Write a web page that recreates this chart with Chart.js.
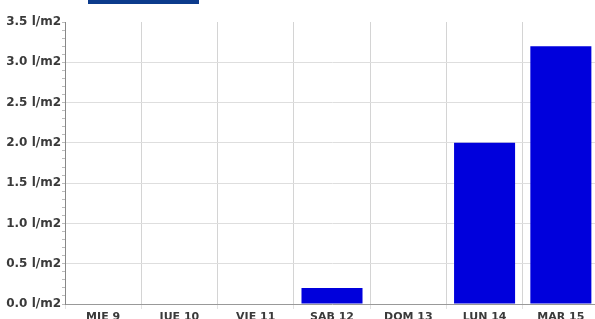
<!DOCTYPE html>
<html>
<head>
<meta charset="utf-8">
<script src="https://cdn.jsdelivr.net/npm/chart.js@4/dist/chart.umd.min.js"></script>
<style>
html,body{margin:0;padding:0;background:#fff;overflow:hidden;}
#wrap{position:relative;width:595px;height:319px;overflow:hidden;}
#bar{position:absolute;left:88px;top:0;width:111px;height:4px;background:#0c3b8c;}
canvas{position:absolute;left:0;top:0;}
</style>
</head>
<body>
<div id="wrap">
<canvas id="c" width="600" height="330"></canvas>
<div id="bar"></div>
</div>
<script>
const categories = ['MIE 9','JUE 10','VIE 11','SAB 12','DOM 13','LUN 14','MAR 15'];
const rainfall = [0, 0, 0, 0.2, 0, 2.0, 3.2];
const unit = ' l/m2';

function isMajor(v){ return Math.abs(v*2 - Math.round(v*2)) < 1e-6; }

new Chart(document.getElementById('c'), {
  type: 'bar',
  data: {
    labels: categories,
    datasets: [{
      data: rainfall,
      backgroundColor: '#0000dc',
      borderWidth: 0,
      categoryPercentage: 1,
      barPercentage: 0.8
    }]
  },
  options: {
    responsive: false,
    animation: false,
    events: [],
    layout: { padding: { top: 22, right: 1, left: 0, bottom: 0 } },
    plugins: { legend: { display: false }, tooltip: { enabled: false } },
    scales: {
      x: {
        grid: { color: '#d4d4d4', drawTicks: true, tickLength: 5, tickColor: '#e2e2e2', offset: true },
        border: { color: '#999' },
        ticks: { color: '#3a3a3a', font: { family: 'DejaVu Sans', size: 11, weight: 'bold' }, padding: 2, maxRotation: 0 },
        afterFit(s){ s.height = 26; }
      },
      y: {
        min: 0, max: 3.5,
        grid: {
          color: ctx => (ctx.tick && isMajor(ctx.tick.value) && ctx.tick.value > 0 && ctx.tick.value < 3.5) ? '#dedede' : 'rgba(0,0,0,0)',
          tickColor: '#bbb', tickLength: 3, drawTicks: true
        },
        border: { color: '#888' },
        ticks: {
          stepSize: 0.1, autoSkip: false,
          color: '#3a3a3a', font: { family: 'DejaVu Sans', size: 12, weight: 'bold' }, padding: 1,
          callback: v => isMajor(v) ? (Math.round(v*2)/2).toFixed(1) + unit : ''
        },
        afterFit(s){ s.width = 65; }
      }
    }
  }
});
</script>
</body>
</html>
